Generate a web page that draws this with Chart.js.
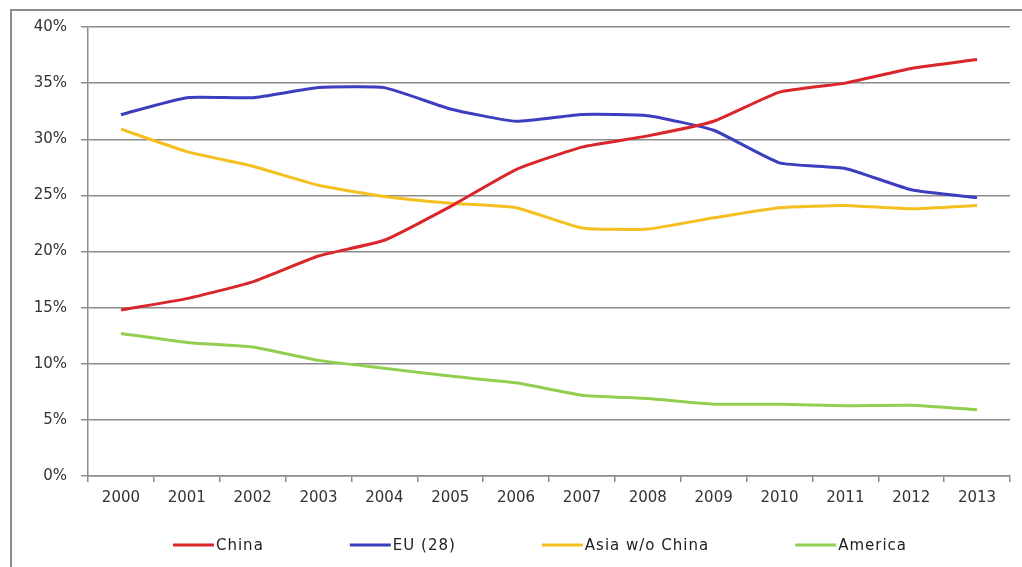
<!DOCTYPE html>
<html>
<head>
<meta charset="utf-8">
<script src="https://cdn.jsdelivr.net/npm/chart.js@4.4.1/dist/chart.umd.min.js"></script>
<style>
  html, body { margin: 0; padding: 0; background: #fff; }
  #wrap { position: relative; width: 1022px; height: 567px; }
  #frame { position: absolute; left: 10px; top: 9px; right: 0; bottom: 0;
           border-top: 2px solid #8c8c8c; border-left: 2px solid #8c8c8c; }
  canvas { position: absolute; left: 0; top: 0; }
</style>
</head>
<body>
<div id="wrap">
  <div id="frame"></div>
  <canvas id="chart" width="1022" height="567"></canvas>
</div>
<script>
const years = ['2000', '2001', '2002', '2003', '2004', '2005', '2006', '2007', '2008', '2009', '2010', '2011', '2012', '2013'];
const china = [14.8, 15.8, 17.3, 19.6, 21.0, 24.0, 27.3, 29.3, 30.3, 31.6, 34.2, 35.0, 36.3, 37.1];
const eu28 = [32.2, 33.7, 33.7, 34.6, 34.6, 32.7, 31.6, 32.2, 32.1, 30.8, 27.9, 27.4, 25.5, 24.8];
const asiaWoChina = [30.9, 28.9, 27.6, 25.9, 24.9, 24.3, 23.9, 22.1, 22.0, 23.0, 23.9, 24.1, 23.8, 24.1];
const america = [12.7, 11.9, 11.5, 10.3, 9.6, 8.9, 8.3, 7.2, 6.9, 6.4, 6.4, 6.25, 6.3, 5.9];

const tickFont = { family: 'DejaVu Sans', size: 15 };
const gridColor = '#8c8c8c';

function series(label, data, color) {
  return {
    label: label,
    data: data,
    borderColor: color,
    backgroundColor: color,
    borderWidth: 3,
    pointRadius: 0,
    tension: 0.15,
    fill: false
  };
}

// legend drawn by hand: line sample with the text right behind it, like the original
const bottomLegend = {
  id: 'bottomLegend',
  afterDraw(chart) {
    const ctx = chart.ctx;
    const lineLen = 41, gap = 86, centerX = 540, y = 545;
    ctx.save();
    ctx.font = '15px "DejaVu Sans"';
    ctx.letterSpacing = '1px';
    ctx.textBaseline = 'middle';
    const items = chart.data.datasets.map(ds => ({ ds: ds, tw: ctx.measureText(ds.label).width }));
    const total = items.reduce((s, it) => s + lineLen + 2 + it.tw, 0) + gap * (items.length - 1);
    let x = centerX - total / 2;
    items.forEach(it => {
      ctx.strokeStyle = it.ds.borderColor;
      ctx.lineWidth = 3;
      ctx.beginPath();
      ctx.moveTo(x, y);
      ctx.lineTo(x + lineLen, y);
      ctx.stroke();
      ctx.fillStyle = '#222';
      ctx.fillText(it.ds.label, x + lineLen + 2, y + 1);
      x += lineLen + 2 + it.tw + gap;
    });
    ctx.restore();
  }
};

new Chart(document.getElementById('chart').getContext('2d'), {
  type: 'line',
  data: {
    labels: years,
    datasets: [
      series('China', china, '#d9262a'),
      series('EU (28)', eu28, '#3d3dbf'),
      series('Asia w/o China', asiaWoChina, '#f5bf1f'),
      series('America', america, '#92cf50')
    ]
  },
  options: {
    responsive: false,
    animation: false,
    layout: { padding: { left: 12, right: 12, top: 27, bottom: 53 } },
    scales: {
      x: {
        offset: true,
        grid: { offset: true, drawOnChartArea: false, drawTicks: true, tickLength: 6, color: gridColor, lineWidth: 1.5 },
        border: { color: gridColor, width: 1.5 },
        ticks: { color: '#333', font: tickFont, padding: 7, maxRotation: 0 }
      },
      y: {
        min: 0,
        max: 40,
        grid: { color: gridColor, lineWidth: 1.5, drawTicks: true, tickLength: 7 },
        border: { color: gridColor, width: 1.5 },
        ticks: { stepSize: 5, color: '#333', font: tickFont, padding: 14, callback: v => v + '%' },
        afterFit: s => { s.width = 76; }
      }
    },
    plugins: {
      legend: { display: false },
      tooltip: { enabled: false }
    }
  },
  plugins: [bottomLegend]
});
</script>
</body>
</html>
